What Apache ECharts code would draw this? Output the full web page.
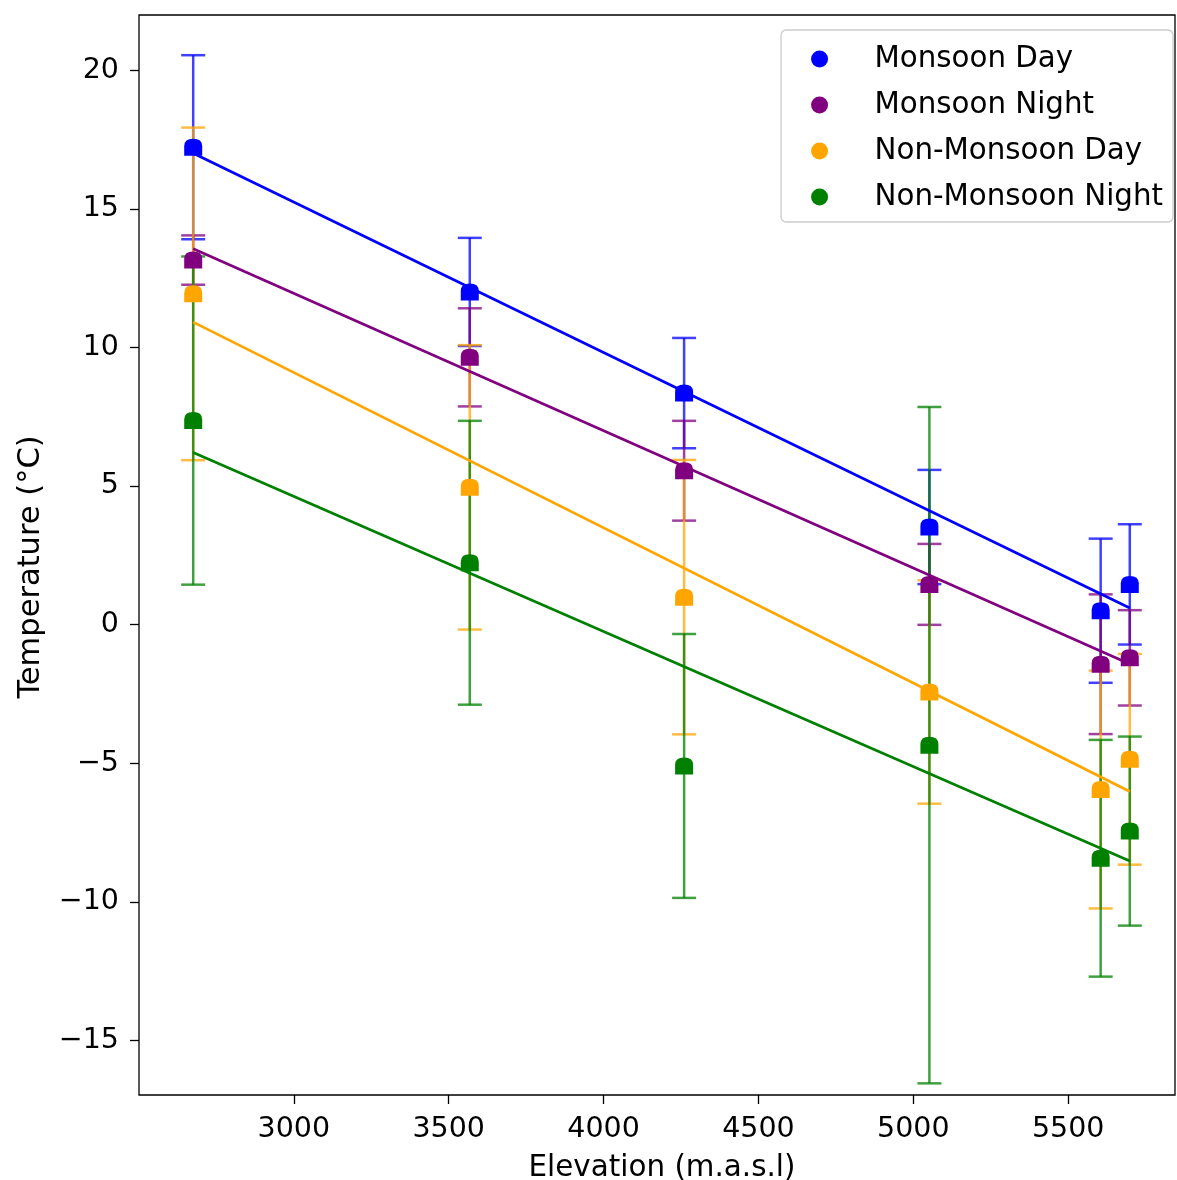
<!DOCTYPE html>
<html>
<head>
<meta charset="utf-8">
<title>Temperature vs Elevation</title>
<script src="https://cdn.jsdelivr.net/npm/echarts@6/dist/echarts.min.js"></script>
<style>
  html, body { margin: 0; padding: 0; background: #fff; }
  #chart { width: 1177px; height: 1180px; }
</style>
</head>
<body>
<div id="chart"></div>
<script>
// Station elevations (m a.s.l.)
const elevation = [2675, 3568, 4260, 5052, 5605, 5699];

// Mean temperatures (°C) and their error half-widths
const monsoonDay        = [17.22, 12.0, 8.35, 3.52, 0.50, 1.45];
const monsoonDayErr     = [3.32, 1.95, 1.99, 2.06, 2.60, 2.17];
const monsoonNight      = [13.15, 9.64, 5.55, 1.45, -1.43, -1.20];
const monsoonNightErr   = [0.89, 1.77, 1.80, 1.46, 2.52, 1.72];
const nonMonsoonDay     = [11.93, 4.95, 0.99, -2.43, -5.95, -4.86];
const nonMonsoonDayErr  = [6.00, 5.13, 4.95, 4.03, 4.29, 3.80];
const nonMonsoonNight   = [7.36, 2.23, -5.10, -4.35, -8.43, -7.45];
const nonMonsoonNightErr= [5.92, 5.12, 4.76, 12.20, 4.27, 3.41];

// Linear-fit temperatures at the lowest and highest station
const fitStart = [17.0, 13.56, 10.91, 6.21];
const fitEnd   = [0.60, -1.42, -6.02, -8.53];

const seriesNames = ['Monsoon Day', 'Monsoon Night', 'Non-Monsoon Day', 'Non-Monsoon Night'];
const colors = ['#0000ff', '#800080', '#ffa500', '#008000'];
const barColors = ['rgba(0,0,255,0.75)', 'rgba(128,0,128,0.75)', 'rgba(255,165,0,0.75)', 'rgba(0,128,0,0.75)'];
const means = [monsoonDay, monsoonNight, nonMonsoonDay, nonMonsoonNight];
const errs = [monsoonDayErr, monsoonNightErr, nonMonsoonDayErr, nonMonsoonNightErr];

const FONT = 'DejaVu Sans';
const markerPath = 'path://M0,16 L0,7 Q0,0 8.5,0 Q17,0 17,7 L17,16 Z';

function minusFmt(v) {
  return v < 0 ? '\u2212' + Math.abs(v) : String(v);
}

function errorBars(idx) {
  const data = elevation.map((e, i) => [e, means[idx][i] - errs[idx][i], means[idx][i] + errs[idx][i]]);
  return {
    type: 'custom',
    z: 2,
    silent: true,
    data: data,
    encode: { x: 0, y: [1, 2] },
    renderItem: function (params, api) {
      const x = api.value(0);
      const lo = api.coord([x, api.value(1)]);
      const hi = api.coord([x, api.value(2)]);
      const hw = 12;
      const style = { stroke: barColors[idx], lineWidth: 2.5, fill: null };
      return {
        type: 'group',
        children: [
          { type: 'line', shape: { x1: lo[0], y1: lo[1], x2: hi[0], y2: hi[1] }, style: style },
          { type: 'line', shape: { x1: hi[0] - hw, y1: hi[1], x2: hi[0] + hw, y2: hi[1] }, style: style },
          { type: 'line', shape: { x1: lo[0] - hw, y1: lo[1], x2: lo[0] + hw, y2: lo[1] }, style: style }
        ]
      };
    }
  };
}

function markers(idx) {
  return {
    type: 'scatter',
    name: seriesNames[idx],
    z: 3,
    symbol: markerPath,
    symbolSize: [18, 17],
    itemStyle: { color: colors[idx], opacity: 1 },
    data: elevation.map((e, i) => [e, means[idx][i]])
  };
}

function fitLine(idx) {
  return {
    type: 'line',
    z: 4,
    silent: true,
    showSymbol: false,
    symbol: 'none',
    lineStyle: { color: colors[idx], width: 2.7 },
    data: [[elevation[0], fitStart[idx]], [elevation[elevation.length - 1], fitEnd[idx]]]
  };
}

const series = [];
for (let i = 0; i < 4; i++) series.push(errorBars(i));
for (let i = 0; i < 4; i++) series.push(markers(i));
for (let i = 0; i < 4; i++) series.push(fitLine(i));

const chart = echarts.init(document.getElementById('chart'), null, { renderer: 'canvas' });
chart.setOption({
  animation: false,
  backgroundColor: '#ffffff',
  grid: {
    left: 139, top: 15, width: 1036, height: 1080,
    containLabel: false,
    outerBoundsMode: 'none',
    show: true, borderColor: '#000', borderWidth: 1.3, backgroundColor: 'transparent'
  },
  legend: {
    data: seriesNames.map(n => ({ name: n, icon: 'circle' })),
    orient: 'vertical',
    right: 4,
    top: 30,
    itemWidth: 80,
    itemHeight: 17,
    itemGap: 16,
    padding: [14, 10, 10, 30],
    borderColor: '#cccccc',
    borderWidth: 1.3,
    borderRadius: 5,
    backgroundColor: 'rgba(255,255,255,0.85)',
    textStyle: { fontFamily: FONT, fontSize: 29.3, color: '#000', lineHeight: 30, padding: [0, 0, 0, 10] }
  },
  xAxis: {
    type: 'value',
    min: 2500,
    max: 5845,
    interval: 500,
    name: 'Elevation (m.a.s.l)',
    nameLocation: 'middle',
    nameGap: 59,
    nameTextStyle: { fontFamily: FONT, fontSize: 29.4, color: '#000', padding: [0, 0, 0, 10] },
    axisLine: { show: false, onZero: false },
    axisTick: { show: true, length: 9, lineStyle: { color: '#000', width: 1.3 } },
    axisLabel: {
      showMinLabel: false, showMaxLabel: false,
      margin: 20, fontFamily: FONT, fontSize: 28.5, color: '#000',
      formatter: v => String(v)
    },
    splitLine: { show: false }
  },
  yAxis: {
    type: 'value',
    min: -16.97,
    max: 21.99,
    splitNumber: 8,
    name: 'Temperature (°C)',
    nameLocation: 'middle',
    nameGap: 92,
    nameTextStyle: { fontFamily: FONT, fontSize: 30.5, color: '#000', padding: [0, 24, 0, 0] },
    axisLine: { show: false, onZero: false },
    axisTick: { show: true, length: 9, lineStyle: { color: '#000', width: 1.3 } },
    axisLabel: {
      showMinLabel: false, showMaxLabel: false,
      margin: 20, fontFamily: FONT, fontSize: 28.5, color: '#000',
      formatter: minusFmt
    },
    splitLine: { show: false }
  },
  series: series
});
</script>
</body>
</html>
